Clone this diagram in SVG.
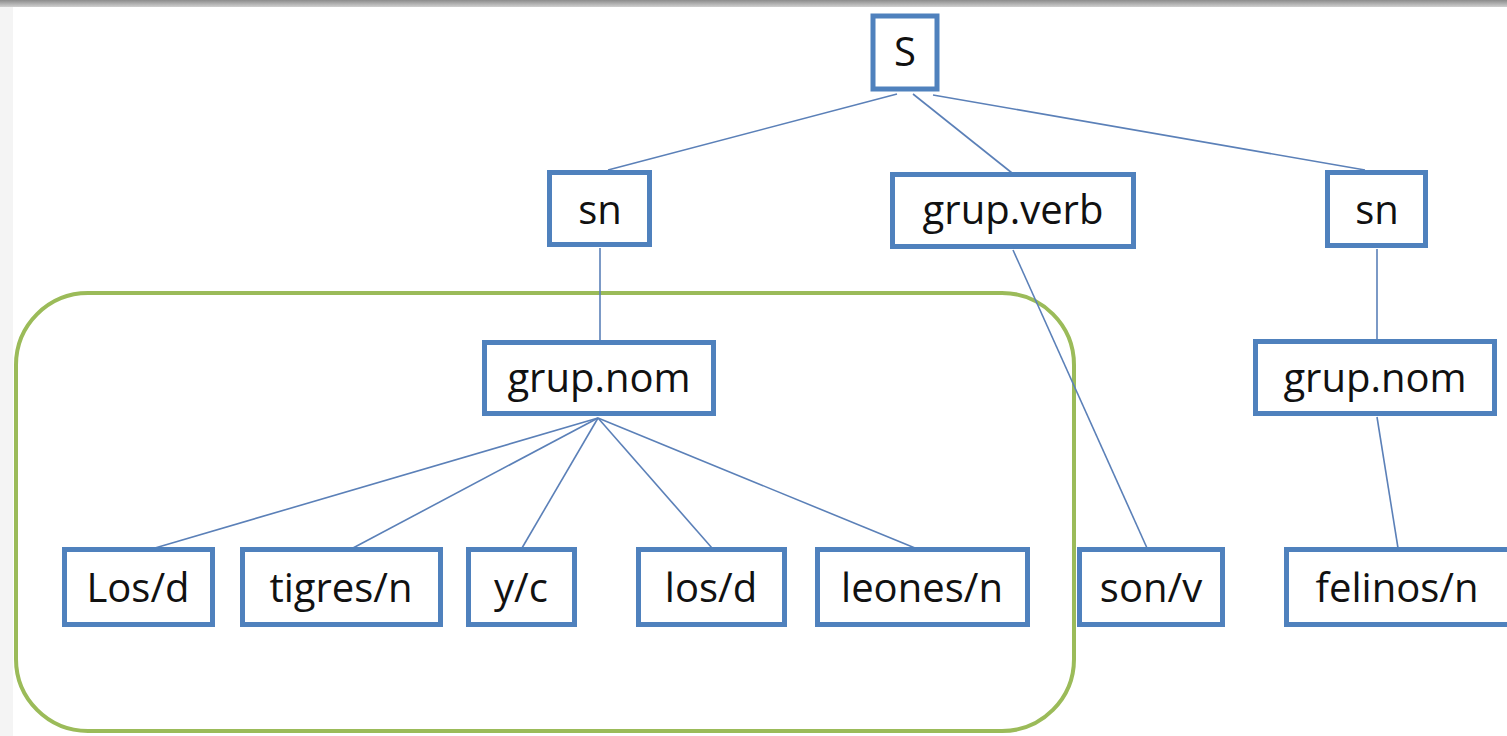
<svg xmlns="http://www.w3.org/2000/svg" width="1507" height="736" viewBox="0 0 1507 736">
  <style>
    .box { fill: #ffffff; stroke: #4f81bd; stroke-width: 5; }
    .lbl { font-family: "Open Sans", "Noto Sans", sans-serif; font-size: 40px; fill: #111111; text-anchor: middle; }
    .edge { stroke: #5b80b8; stroke-width: 1.6; fill: none; }
    .group { fill: none; stroke: #9bbb59; stroke-width: 4; }
  </style>
  <defs>
    <linearGradient id="topbar" x1="0" y1="0" x2="0" y2="1">
      <stop offset="0" stop-color="#8c8c8c"/>
      <stop offset="1" stop-color="#cfcfcf"/>
    </linearGradient>
  </defs>
  <rect x="0" y="0" width="1507" height="736" fill="#ffffff"/>
  <rect x="0" y="7" width="13" height="729" fill="#f4f4f4"/>
  <rect x="0" y="0" width="1507" height="7" fill="url(#topbar)"/>

  <rect id="selection" class="group" x="16" y="293" width="1058" height="438" rx="72" ry="72"/>

  <g id="connectors">
    <line class="edge" x1="897" y1="94" x2="608" y2="170"/>
    <line class="edge" x1="913" y1="94" x2="1012" y2="173"/>
    <line class="edge" x1="933" y1="95" x2="1365" y2="170"/>
    <line class="edge" x1="600" y1="248" x2="600" y2="341"/>
    <line class="edge" x1="1013" y1="250" x2="1147" y2="548"/>
    <line class="edge" x1="1377" y1="249" x2="1377" y2="340"/>
    <line class="edge" x1="1377" y1="417" x2="1398" y2="548"/>
    <line class="edge" x1="598" y1="418" x2="155" y2="548"/>
    <line class="edge" x1="598" y1="418" x2="353" y2="548"/>
    <line class="edge" x1="598" y1="418" x2="522" y2="548"/>
    <line class="edge" x1="598" y1="418" x2="712" y2="548"/>
    <line class="edge" x1="598" y1="418" x2="915" y2="548"/>
  </g>

  <g id="S"><rect class="box" x="873" y="16" width="64" height="73"/><text class="lbl" x="905" y="66">S</text></g>
  <g id="sn1"><rect class="box" x="549.5" y="172.5" width="100" height="72"/><text class="lbl" x="600" y="224">sn</text></g>
  <g id="grupverb"><rect class="box" x="892.5" y="174.5" width="241" height="72"/><text class="lbl" x="1013" y="224">grup.verb</text></g>
  <g id="sn2"><rect class="box" x="1327.5" y="172.5" width="98" height="73"/><text class="lbl" x="1377" y="224">sn</text></g>
  <g id="grupnom1"><rect class="box" x="484.5" y="342.5" width="229" height="71"/><text class="lbl" x="599" y="392">grup.nom</text></g>
  <g id="grupnom2"><rect class="box" x="1255.5" y="341.5" width="239" height="72"/><text class="lbl" x="1375" y="392">grup.nom</text></g>
  <g id="Los"><rect class="box" x="64.5" y="549.5" width="148" height="75"/><text class="lbl" x="138" y="602">Los/d</text></g>
  <g id="tigres"><rect class="box" x="242.5" y="549.5" width="198" height="75"/><text class="lbl" x="341" y="602">tigres/n</text></g>
  <g id="yc"><rect class="box" x="468.5" y="549.5" width="106" height="75"/><text class="lbl" x="521" y="602">y/c</text></g>
  <g id="los"><rect class="box" x="638.5" y="549.5" width="146" height="75"/><text class="lbl" x="711" y="602">los/d</text></g>
  <g id="leones"><rect class="box" x="817.5" y="549.5" width="210" height="75"/><text class="lbl" x="922" y="602">leones/n</text></g>
  <g id="son"><rect class="box" x="1079.5" y="549.5" width="143" height="75"/><text class="lbl" x="1151" y="602">son/v</text></g>
  <g id="felinos"><rect class="box" x="1286.5" y="549.5" width="232" height="75"/><text class="lbl" x="1397" y="602">felinos/n</text></g>
</svg>
